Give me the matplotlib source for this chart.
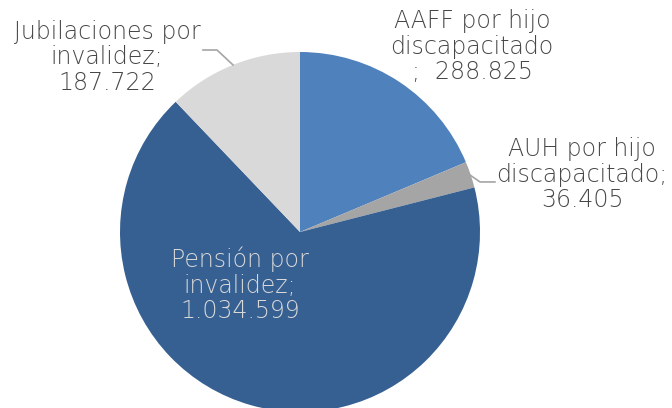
import matplotlib
matplotlib.use("Agg")
import matplotlib.pyplot as plt

labels = ["AAFF por hijo\ndiscapacitado\n;  288.825",
          "AUH por hijo\ndiscapacitado;\n36.405",
          "Pensión por\ninvalidez;\n1.034.599",
          "Jubilaciones por\ninvalidez;\n187.722"]
values = [288825, 36405, 1034599, 187722]
colors = ["#4F81BD", "#A5A5A5", "#376092", "#D9D9D9"]

# label centres, in pie units (radius 1)
label_pos = [(0.956, 1.028), (1.567, 0.317), (-0.333, -0.294), (-1.072, 0.972)]
label_col = ["#474747", "#474747", "#D9D9D9", "#474747"]

fig = plt.figure(figsize=(6.72, 4.08), dpi=100)
# pie centre at (300, 232) px, radius 180 px
ax = fig.add_axes([120 / 672, (408 - 232 - 180) / 408, 360 / 672, 360 / 408])
ax.pie(values, colors=colors, startangle=90, counterclock=False, radius=1,
       wedgeprops=dict(linewidth=0))
ax.set_xlim(-1, 1)
ax.set_ylim(-1, 1)
ax.set_aspect("equal")
ax.axis("off")

for txt, (x, y), c in zip(labels, label_pos, label_col):
    ax.text(x, y, txt, ha="center", va="center", multialignment="center",
            fontsize=17, color=c, family="DejaVu Sans", fontweight="light",
            linespacing=1.08, clip_on=False)

# leader lines
ax.plot([0.944, 1.0, 1.083], [0.317, 0.278, 0.278], color="#A5A5A5", lw=1.2, clip_on=False)
ax.plot([-0.372, -0.461, -0.539], [0.928, 1.011, 1.011], color="#A5A5A5", lw=1.2, clip_on=False)

fig.savefig("out.png", dpi=100)
